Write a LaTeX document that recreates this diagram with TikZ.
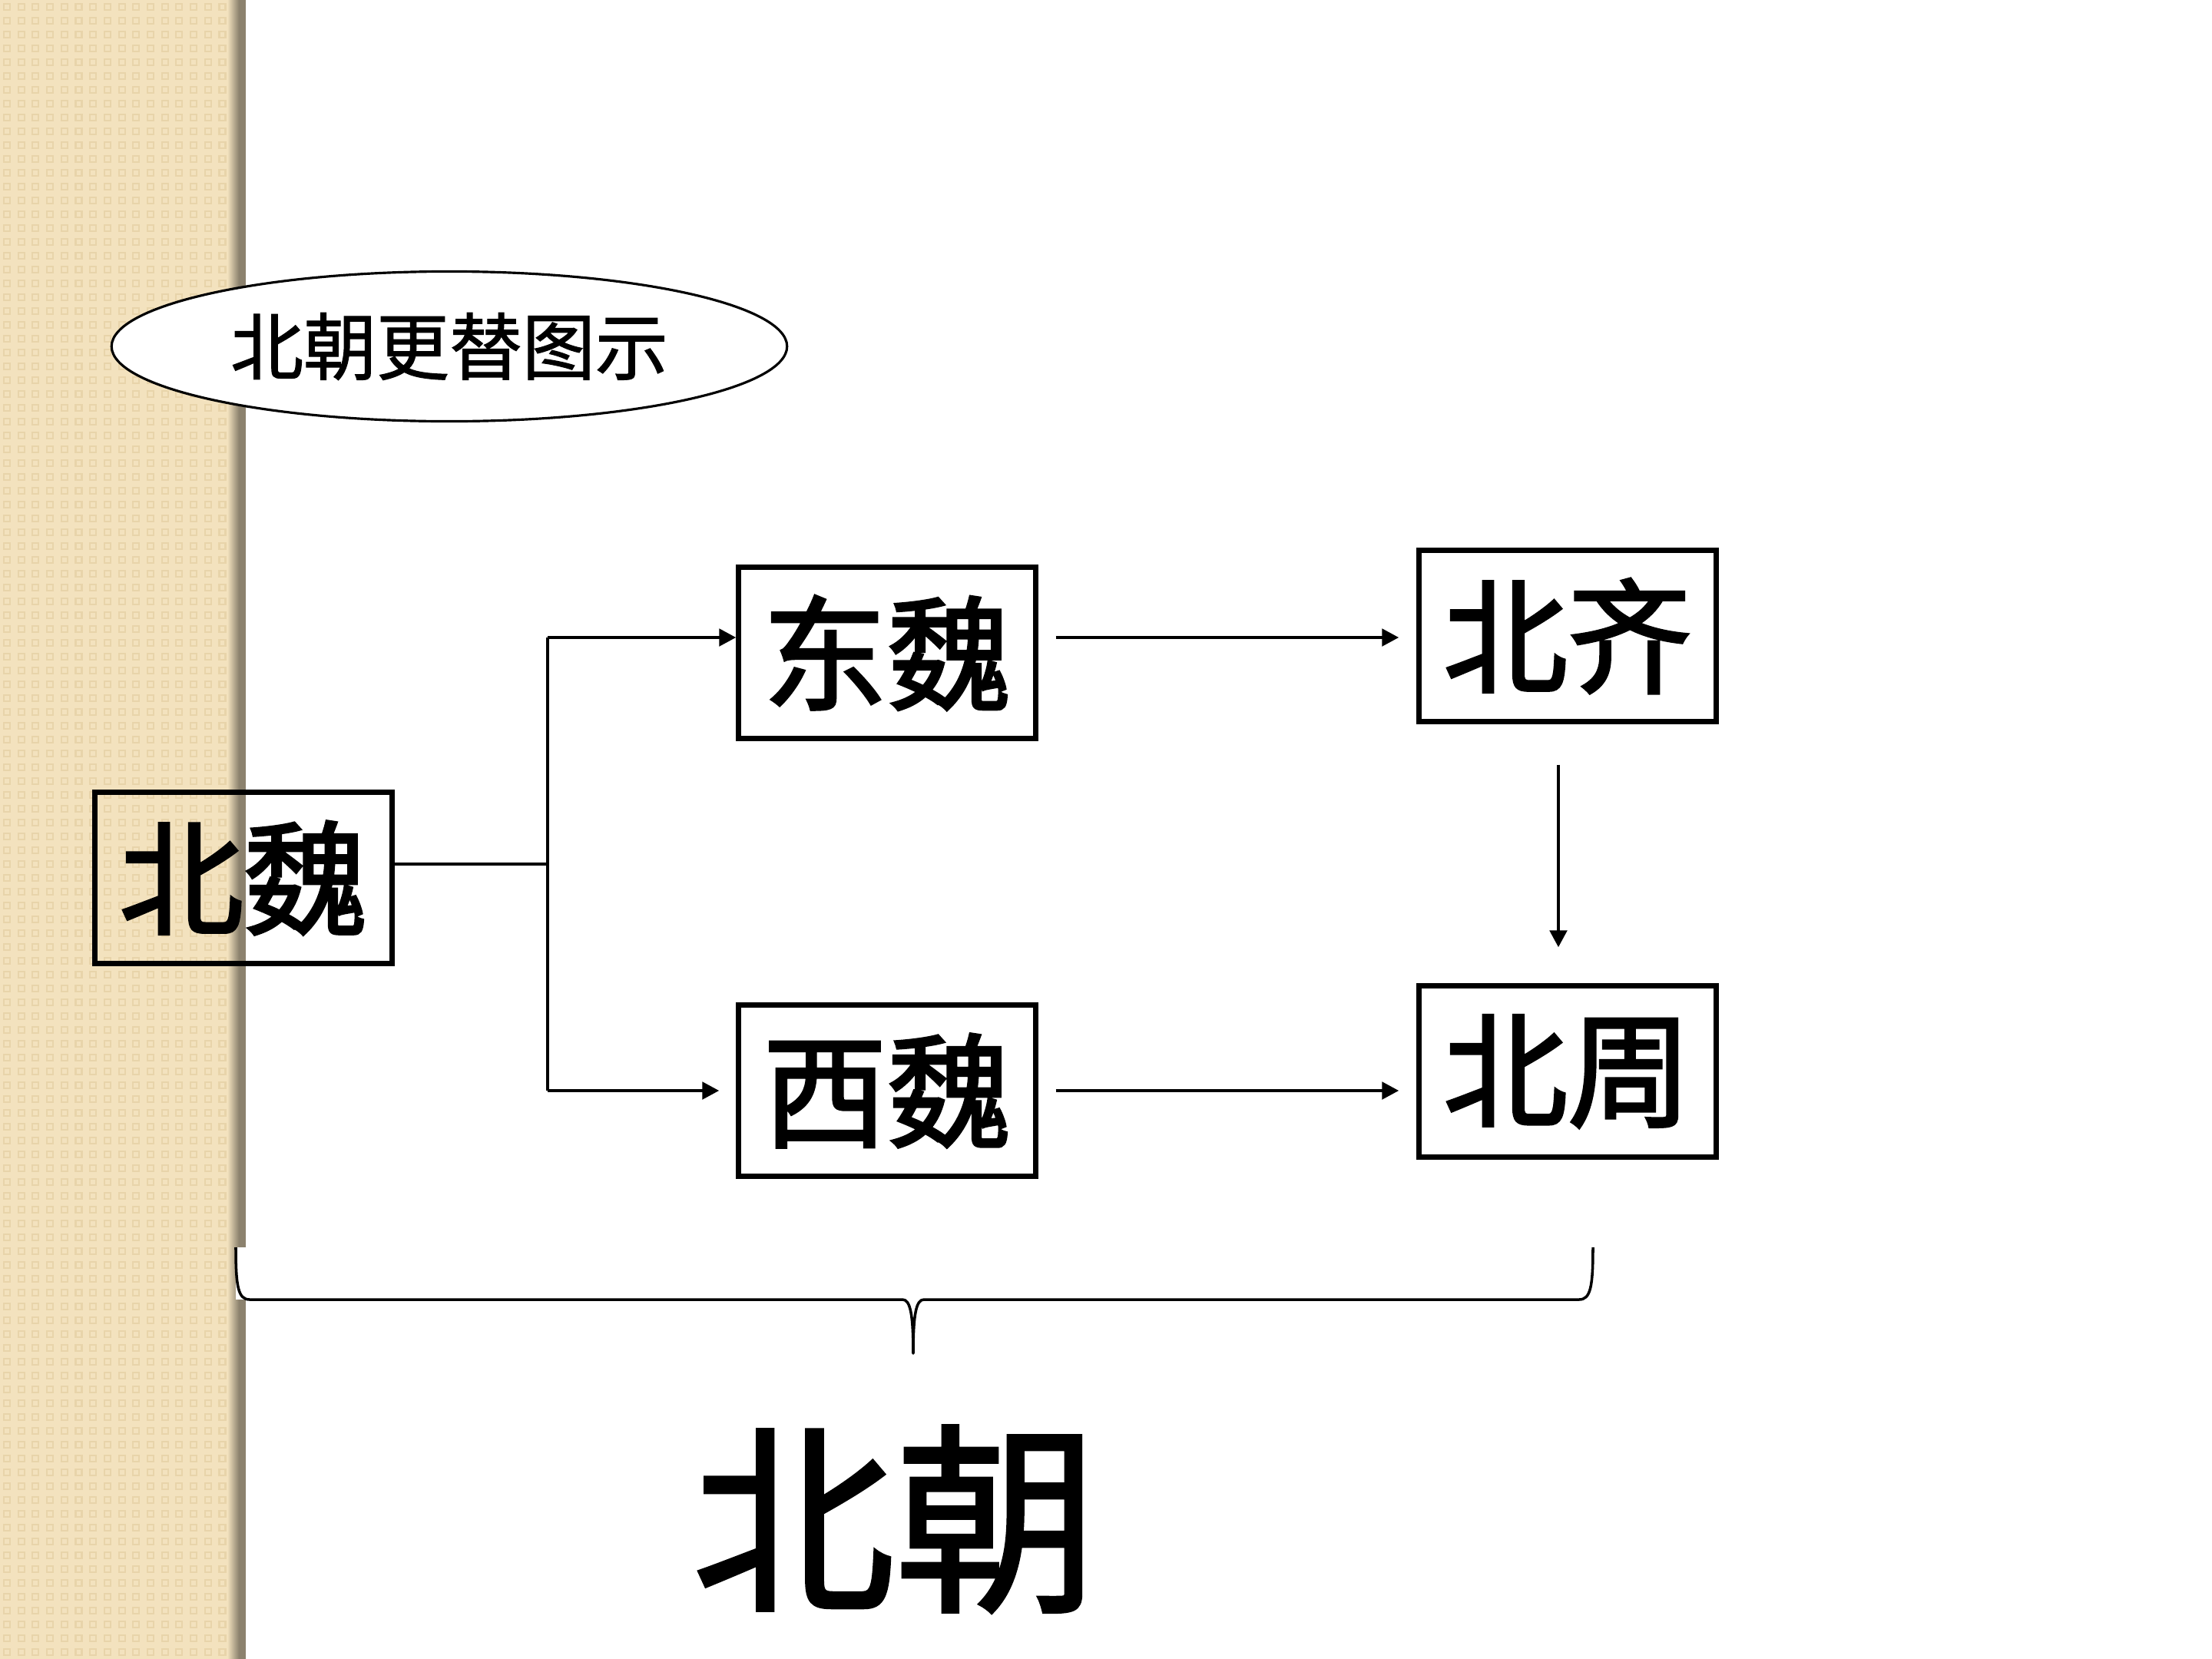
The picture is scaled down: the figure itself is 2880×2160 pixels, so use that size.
\documentclass[tikz,border=0pt]{standalone}
\usepackage{fontspec}
\newfontfamily\cjk{Noto Sans CJK SC}
\newfontfamily\cjkbox{Noto Sans CJK SC}[FakeBold=2.2]
\newfontfamily\cjkbig{Noto Sans CJK SC}[FakeBold=1.6]
\newfontfamily\cjktitle{Noto Sans CJK SC}[FakeBold=1.2]
\usetikzlibrary{arrows.meta,shapes.geometric,calc}
\definecolor{tanbg}{HTML}{F3E2BE}
\definecolor{tandot}{HTML}{E8D4AA}
\definecolor{tanshade}{HTML}{8C826E}
\tikzset{
  box/.style={draw, line width=2pt, minimum width=3.86cm, minimum height=2.22cm, inner sep=0pt,
    font=\cjkbox\fontsize{46pt}{50pt}\selectfont},
  conn/.style={line width=1.4pt},
  arr/.style={conn, -{Triangle[length=0.22cm,width=0.22cm]}},
}
\begin{document}
\begin{tikzpicture}[x=0.01cm,y=-0.01cm]
\useasboundingbox (0,0) rectangle (2880,2160);
\fill[white] (0,0) rectangle (2880,2160);
% left strip
\fill[tanbg] (0,0) rectangle (303,2160);
\foreach \i in {0,...,15}{
  \foreach \j in {0,...,119}{
    \draw[tandot, line width=0.6pt] ({\i*18.7+5},{\j*18+5}) rectangle ++(8,8);
  }
}
\shade[left color=tanbg, right color=tanshade] (296,0) rectangle (311,2160);
\fill[tanshade] (311,0) rectangle (320,2160);

% title ellipse
\node[ellipse, draw, fill=white, line width=0.9pt, minimum width=8.79cm, minimum height=1.95cm,
  inner sep=0pt, font=\cjktitle\fontsize{27pt}{30pt}\selectfont] (title) at (585,451) {北朝更替图示};

% boxes
\node[box] (bw) at (317,1143) {北魏};
\node[box] (dw) at (1155,850) {东魏};
\node[box] (xw) at (1155,1420) {西魏};
\node[box] (bq) at (2041,828) {北齐};
\node[box] (bz) at (2041,1395) {北周};

% connectors
\coordinate (jt) at (713,830);
\coordinate (jm) at (713,1125);
\coordinate (jb) at (713,1420);
\draw[conn] (bw.east |- jm) -- (jm);
\draw[conn] (jt) -- (jb);
\draw[arr] (jt) -- (jt -| dw.west);
\draw[arr, shorten >=0.22cm] (jb) -- (jb -| xw.west);
\draw[arr, shorten <=0.23cm, shorten >=0.23cm] (jt -| dw.east) -- (jt -| bq.west);
\draw[arr, shorten <=0.23cm, shorten >=0.23cm] (jb -| xw.east) -- (jb -| bz.west);
\draw[arr, shorten <=0.53cm, shorten >=0.47cm] ([xshift=-0.12cm]bq.south) -- ([xshift=-0.12cm]bz.north);

% brace
\coordinate (bl) at (307,1624);
\coordinate (br) at (2074,1624);
\coordinate (btip) at (1189,1762);
\fill[white] (bl) -- (br) -- (2074,1692) -- (307,1692) -- cycle;
\draw[line width=1pt, line join=round] (bl) .. controls (307,1675) and (310,1692) .. (325,1692)
  -- (1175,1692) .. controls (1185,1692) and (1189,1710) .. (btip)
  .. controls (1189,1710) and (1193,1692) .. (1203,1692)
  -- (2056,1692) .. controls (2071,1692) and (2074,1675) .. (br);

% big label
\node[font=\cjkbig\fontsize{75pt}{80pt}\selectfont, inner sep=0pt] (bc) at (1165,1978) {北朝};
\end{tikzpicture}
\end{document}
